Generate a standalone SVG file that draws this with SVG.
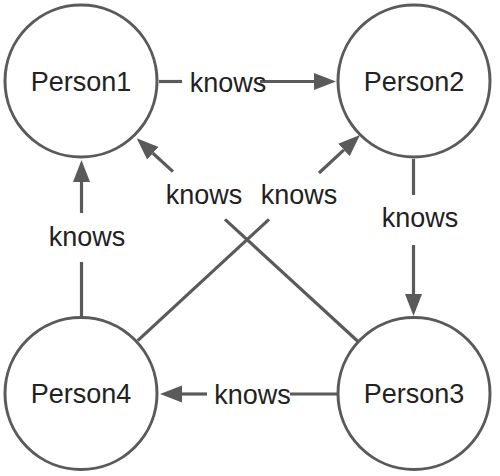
<svg xmlns="http://www.w3.org/2000/svg" width="500" height="476" viewBox="0 0 500 476">
<style>
.node{fill:#fff;stroke:#5a5a5a;stroke-width:3}
.edge{fill:none;stroke:#5a5a5a;stroke-width:3.2}
.t{font-family:"Liberation Sans",Arial,sans-serif;font-size:27px;fill:#222;text-anchor:middle}
</style>
<defs>
<marker id="arr" markerUnits="userSpaceOnUse" markerWidth="24" markerHeight="18" refX="0" refY="8.5" orient="auto" viewBox="0 0 24 17">
<path d="M0,0 L22,8.5 L0,17 Z" fill="#5a5a5a"/>
</marker>
</defs>
<rect width="500" height="476" fill="#fff"/>
<g id="connectors">
<g id="e1">
<line class="edge" x1="159" y1="81.5" x2="182" y2="81.5"/>
<line class="edge" x1="260" y1="81.5" x2="314" y2="81.5" marker-end="url(#arr)"/>
<text class="t" x="228" y="91.5">knows</text>
</g>
<g id="e2">
<line class="edge" x1="413.5" y1="159" x2="413.5" y2="195"/>
<line class="edge" x1="413.5" y1="245" x2="413.5" y2="294" marker-end="url(#arr)"/>
<text class="t" x="420" y="227">knows</text>
</g>
<g id="e3">
<line class="edge" x1="337" y1="394" x2="290" y2="394"/>
<line class="edge" x1="207" y1="394" x2="182" y2="394" marker-end="url(#arr)"/>
<text class="t" x="252.5" y="403.5">knows</text>
</g>
<g id="e4">
<line class="edge" x1="81.5" y1="318" x2="81.5" y2="262"/>
<line class="edge" x1="81.5" y1="213" x2="81.5" y2="182" marker-end="url(#arr)"/>
<text class="t" x="87" y="246">knows</text>
</g>
<g id="e5">
<line class="edge" x1="358.3" y1="341.7" x2="225" y2="219.4"/>
<line class="edge" x1="173" y1="171.6" x2="152.9" y2="153.2" marker-end="url(#arr)"/>
<text class="t" x="204" y="204">knows</text>
</g>
<g id="e6">
<line class="edge" x1="137.7" y1="340.7" x2="269" y2="219.3"/>
<line class="edge" x1="319" y1="173" x2="343.9" y2="149.9" marker-end="url(#arr)"/>
<text class="t" x="299" y="204">knows</text>
</g>
</g>
<g id="Person1"><circle class="node" cx="81" cy="81" r="76"/><text class="t" x="81" y="90.5">Person1</text></g>
<g id="Person2"><circle class="node" cx="414" cy="81" r="76"/><text class="t" x="414" y="90.5">Person2</text></g>
<g id="Person3"><circle class="node" cx="414" cy="393.5" r="76"/><text class="t" x="414" y="403">Person3</text></g>
<g id="Person4"><circle class="node" cx="81" cy="393.5" r="76"/><text class="t" x="81" y="403">Person4</text></g>
</svg>
